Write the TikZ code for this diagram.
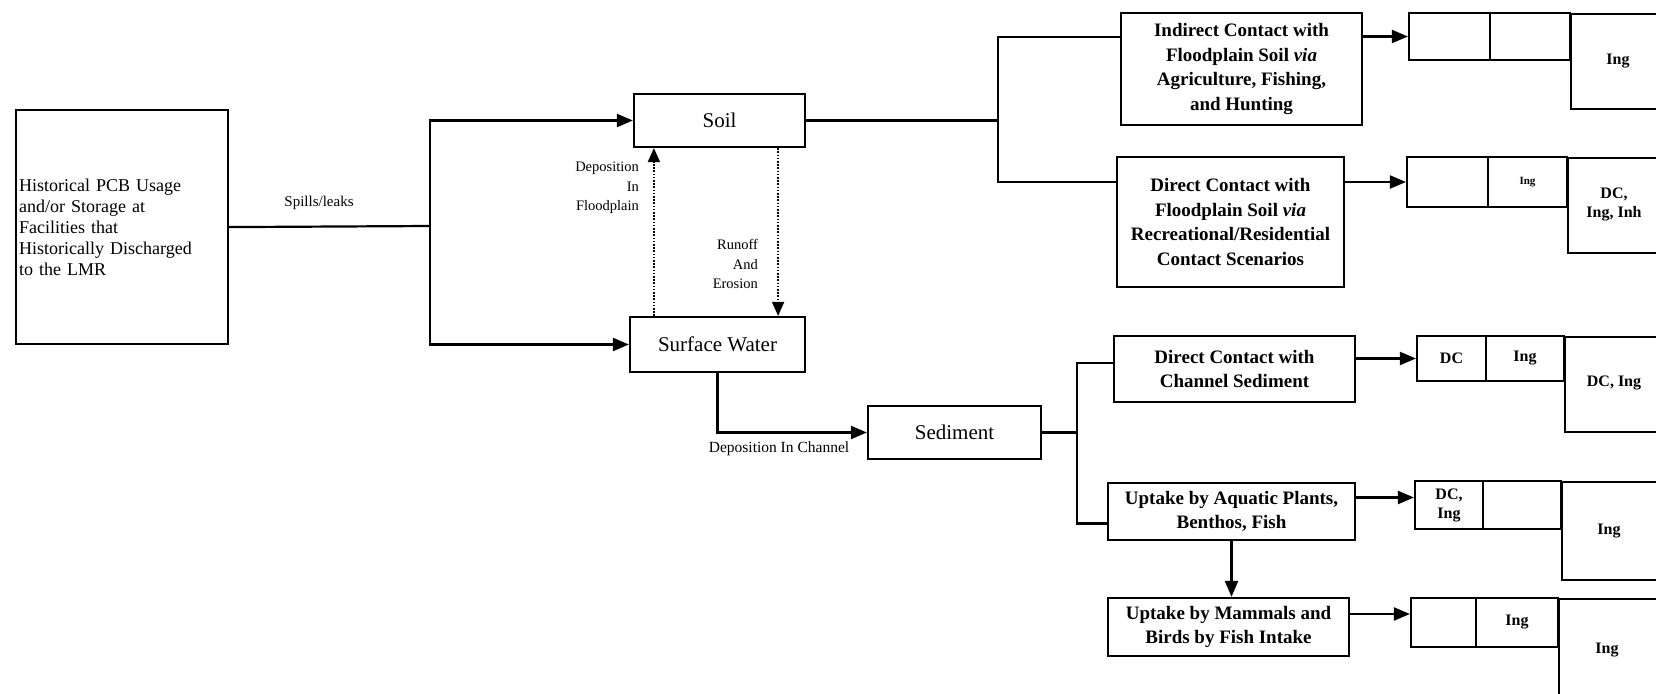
\documentclass[tikz,border=0pt]{standalone}
\usepackage{fontspec}
\setmainfont{Liberation Serif}
\usetikzlibrary{arrows.meta}
\begin{document}
\begin{tikzpicture}[x=1pt,y=-1pt,
  line width=2.2pt,
  conn/.style={line width=2.2pt},
  arr/.style={conn, -{Triangle[length=16pt,width=13pt]}},
  dotarr/.style={-{Triangle[length=14pt,width=12pt]}, line width=1.6pt, dash pattern=on 1.6pt off 1.6pt},
  bx/.style={draw, line width=2.2pt, inner sep=2pt, align=center},
  mid/.style={bx, font=\fontsize{21}{24}\selectfont},
  rbx/.style={bx, font=\fontsize{19}{24.5}\selectfont\bfseries},
  cell/.style={draw, line width=2.2pt, inner sep=0pt, align=center, font=\fontsize{16}{19}\selectfont\bfseries},
  ctext/.style={inner sep=0pt, align=center, font=\fontsize{16}{19}\selectfont\bfseries},
  lbl/.style={inner sep=0pt, font=\fontsize{14.5}{19.5}\selectfont},
]
\clip (0,0) rectangle (1656,693);
\fill[white] (0,0) rectangle (1656,693);

% source box
\node[bx, anchor=north west, minimum height=234pt, text width=206pt, inner sep=3pt, align=left,
  font=\fontsize{18}{21}\selectfont] (src) at (15,109)
  {Historical PCB Usage\\and/or Storage at\\Facilities that\\Historically Discharged\\to the LMR};

% media boxes
\node[mid, minimum width=171pt, minimum height=53pt] (soil) at (719.5,120.5) {Soil};
\node[mid, minimum width=175pt, minimum height=55pt] (sw) at (717.5,344.5) {Surface Water};
\node[mid, minimum width=173pt, minimum height=53pt] (sed) at (954.5,432.5) {Sediment};

% exposure boxes
\node[rbx, minimum width=241pt, minimum height=112pt] (ind) at (1241.5,69)
  {Indirect Contact with\\Floodplain Soil \textit{via}\\Agriculture, Fishing,\\and Hunting};
\node[rbx, minimum width=227pt, minimum height=130pt] (dir) at (1230.5,222)
  {Direct Contact with\\Floodplain Soil \textit{via}\\Recreational/Residential\\Contact Scenarios};
\node[rbx, minimum width=241pt, minimum height=66pt] (dcs) at (1234.5,369)
  {Direct Contact with\\Channel Sediment};
\node[rbx, minimum width=247pt, minimum height=57pt] (upa) at (1231.5,511.5)
  {Uptake by Aquatic Plants,\\Benthos, Fish};
\node[rbx, minimum width=241pt, minimum height=58pt] (upm) at (1228.5,627)
  {Uptake by Mammals and\\Birds by Fish Intake};

% receptor tables
% table 1
\node[cell, minimum width=81pt, minimum height=47pt] (t1a) at (1449.5,36.5) {};
\node[cell, minimum width=80pt, minimum height=47pt] (t1b) at (1530,36.5) {};
\node[cell, minimum width=130pt, minimum height=95pt, anchor=north west] (t1c) at (1570,13) {};
\node[ctext] (t1ct) at (1618,61) {Ing};
% table 2
\node[cell, minimum width=81pt, minimum height=50pt] (t2a) at (1447.5,182) {};
\node[cell, minimum width=79pt, minimum height=50pt, font=\fontsize{11}{13}\selectfont\bfseries] (t2b) at (1527.5,182) {Ing};
\node[cell, minimum width=130pt, minimum height=95pt, anchor=north west] (t2c) at (1567,157) {};
\node[ctext] (t2ct) at (1614,204) {DC,\\Ing, Inh};
% table 3
\node[cell, minimum width=69pt, minimum height=45pt] (t3a) at (1451.5,358.5) {DC};
\node[cell, minimum width=78pt, minimum height=45pt] (t3b) at (1525,358.5) {Ing};
\node[cell, minimum width=130pt, minimum height=95pt, anchor=north west] (t3c) at (1564,336) {};
\node[ctext] (t3ct) at (1614,383) {DC, Ing};
% table 4
\node[cell, minimum width=68pt, minimum height=48pt] (t4a) at (1449,505) {DC,\\Ing};
\node[cell, minimum width=78pt, minimum height=48pt] (t4b) at (1522,505) {};
\node[cell, minimum width=130pt, minimum height=98pt, anchor=north west] (t4c) at (1561,481) {};
\node[ctext] (t4ct) at (1609,531) {Ing};
% table 5
\node[cell, minimum width=65pt, minimum height=49pt] (t5a) at (1443.5,622.5) {};
\node[cell, minimum width=82pt, minimum height=49pt] (t5b) at (1517,622.5) {Ing};
\node[cell, minimum width=130pt, minimum height=130pt, anchor=north west] (t5c) at (1558,598) {};
\node[ctext] (t5ct) at (1607,650) {Ing};

% source to soil / surface water
\coordinate (j1) at (430,226);
\draw[conn] (src.east) -- (j1);
\draw[arr] (j1) |- (soil.west);
\draw[arr] (j1) |- (sw.west);
\node[inner sep=0pt, font=\fontsize{15}{18}\selectfont] (spl) at (319,203) {Spills/leaks};

% soil <-> surface water
\draw[dotarr] ([xshift=25pt]sw.north west) -- ([xshift=21pt]soil.south west);
\draw[dotarr] ([xshift=-28pt]soil.south east) -- ([xshift=-28pt]sw.north east);
\node[lbl, anchor=east, align=right] (depf) at (640,188) {Deposition\\In\\Floodplain};
\node[lbl, anchor=east, align=right] (run) at (759,264) {Runoff\\And\\Erosion};

% surface water to sediment
\draw[arr] (sw.south) |- (sed.west);
\node[inner sep=0pt, font=\fontsize{15.5}{18}\selectfont] (depc) at (779,449) {Deposition In Channel};

% soil to exposure boxes
\coordinate (j2) at (998,120.5);
\draw[conn] (soil.east) -- (j2);
\draw[conn] (j2) |- ([yshift=32pt]ind.west);
\draw[conn] (j2) |- ([yshift=40pt]dir.west);

% sediment to exposure boxes
\coordinate (j3) at (1077,432.5);
\draw[conn] (sed.east) -- (j3);
\draw[conn] (j3) |- ([yshift=6pt]dcs.west);
\draw[conn] (j3) |- ([yshift=-12pt]upa.west);

% exposure to receptor tables
\draw[arr] (ind.east |- t1a.west) -- (t1a.west);
\draw[arr] (dir.east |- t2a.west) -- (t2a.west);
\draw[arr] (dcs.east |- t3a.west) -- (t3a.west);
\path ([yshift=14pt]upa.east) coordinate (u4);
\draw[arr] (u4) -- (u4 -| t4a.west);
\path ([yshift=13pt]upm.east) coordinate (u5);
\draw[arr] (u5) -- (u5 -| t5a.west);
\draw[arr] (upa.south) -- (upa.south |- upm.north);
\end{tikzpicture}
\end{document}
